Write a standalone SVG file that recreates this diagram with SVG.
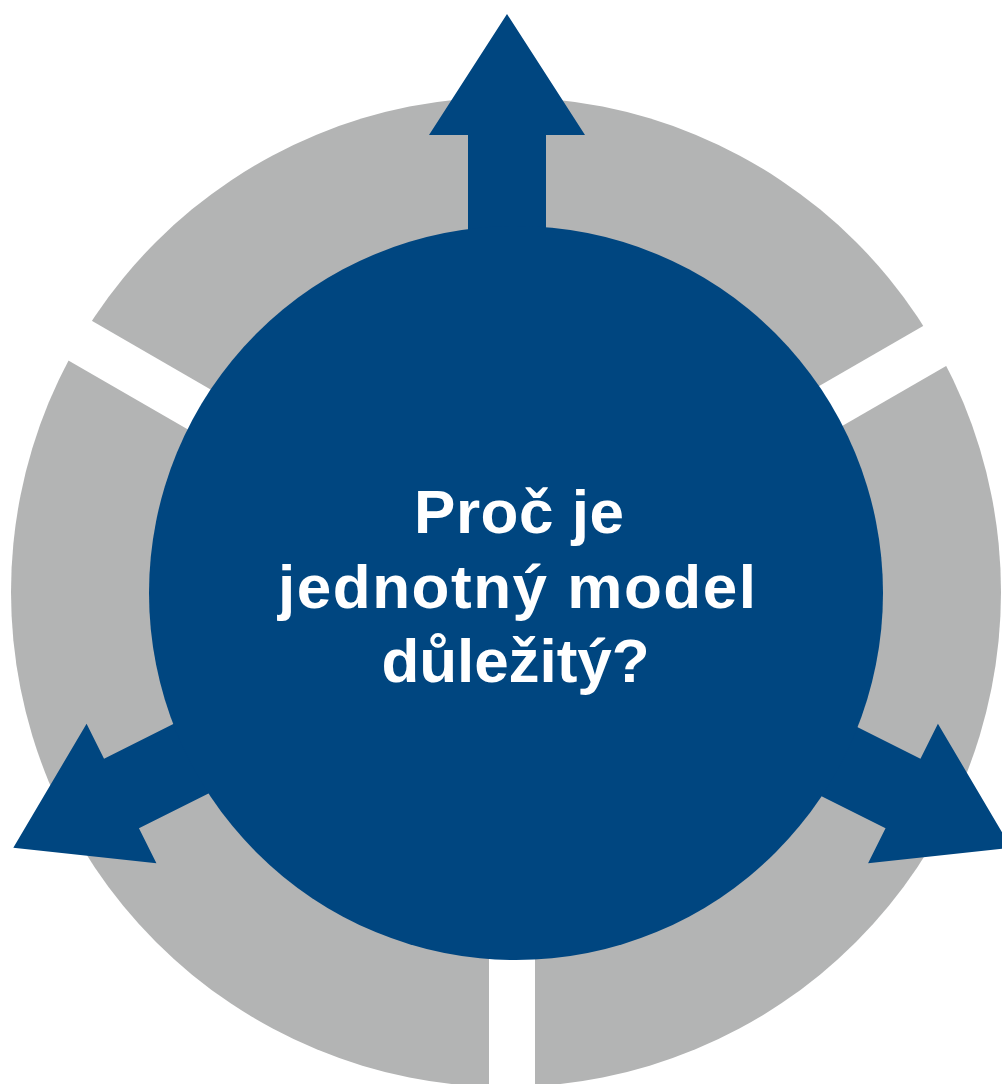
<svg xmlns="http://www.w3.org/2000/svg" width="1002" height="1084" viewBox="0 0 1002 1084">
  <style>
    .ring { fill: #b3b4b4; }
    .gap { fill: #ffffff; }
    .blue { fill: #004680; }
    .label { fill: #ffffff; font-family: "Liberation Sans", Arial, sans-serif; font-weight: bold; font-size: 62px; text-anchor: middle; }
  </style>
  <defs>
    <polygon id="arrowShape" points="0,-121 78,0 39,0 39,420 -39,420 -39,0 -78,0"/>
  </defs>
  <rect width="1002" height="1084" fill="#ffffff"/>
  <g id="ring">
    <circle class="ring" cx="506" cy="592" r="495"/>
    <rect class="gap" x="-23" y="0" width="46" height="540" transform="translate(512,590)"/>
    <rect class="gap" x="-23" y="0" width="46" height="540" transform="translate(512,590) rotate(120)"/>
    <rect class="gap" x="-23" y="0" width="46" height="540" transform="translate(512,590) rotate(-120)"/>
  </g>
  <g id="connectors">
    <use href="#arrowShape" class="blue" transform="translate(507,135)"/>
    <use href="#arrowShape" class="blue" transform="translate(121.5,793.5) rotate(-116.6)"/>
    <use href="#arrowShape" class="blue" transform="translate(903,793.5) rotate(116.6)"/>
  </g>
  <g id="center">
    <circle class="blue" cx="516" cy="593" r="367"/>
    <text class="label" x="519" y="533" textLength="210" lengthAdjust="spacing">Proč je</text>
    <text class="label" x="517" y="608" textLength="478" lengthAdjust="spacing">jednotný model</text>
    <text class="label" x="515.5" y="682" textLength="268" lengthAdjust="spacing">důležitý?</text>
  </g>
</svg>
